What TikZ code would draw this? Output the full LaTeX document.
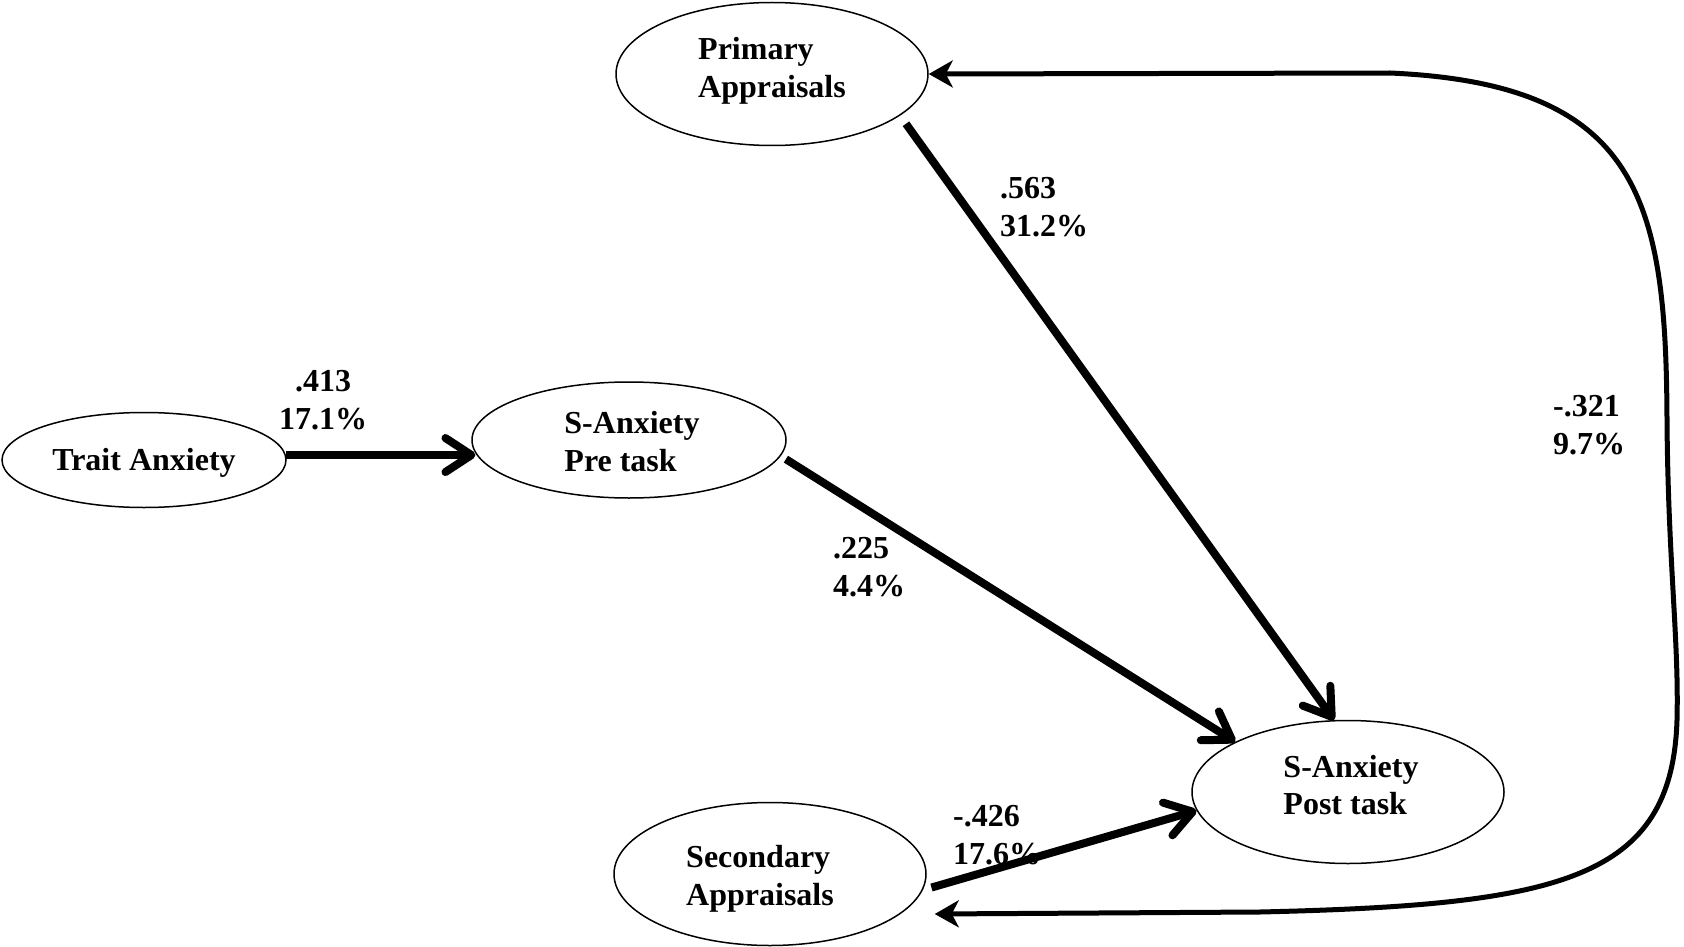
\documentclass[tikz,border=0pt]{standalone}
\usepackage{fontspec}
\setmainfont{Liberation Serif}
\usetikzlibrary{arrows.meta,shapes.geometric,calc}
\begin{document}
\begin{tikzpicture}[x=1pt,y=-1pt,
  txt/.style={font=\fontsize{32}{37.6}\selectfont\bfseries, inner sep=0pt, align=left},
  var/.style={ellipse, draw, line width=1.5pt, inner sep=0pt},
  big/.style={var, minimum width=312pt, minimum height=143pt},
  path/.style={line width=8pt, -{Straight Barb[length=26pt, width=34pt, round]}},
  fb/.style={line width=5pt, line cap=round,
     {Stealth[length=24pt, width=27pt, inset=7pt]}-{Stealth[length=24pt, width=27pt, inset=7pt]}}
]
\useasboundingbox (0,0) rectangle (1684,947);

\node[big, label={[txt, yshift=3pt]center:Primary\\Appraisals}] (Primary) at (772,74) {};
\node[var, minimum width=284pt, minimum height=95pt,
      label={[txt, yshift=-3pt]center:Trait Anxiety}] (Trait) at (144,460) {};
\node[var, minimum width=314pt, minimum height=116pt,
      label={[txt, xshift=3pt, yshift=-1.5pt]center:S-Anxiety\\Pre task}] (Pre) at (629,440) {};
\node[big, label={[txt, xshift=3pt, yshift=7pt]center:S-Anxiety\\Post task}] (Post) at (1348,792) {};
\node[big, label={[txt, xshift=-10pt, yshift=-5pt]center:Secondary\\Appraisals}] (Secondary) at (770,874) {};

\coordinate (sectip) at ($(Secondary.east)+(8,40)$);

\draw[path] (Trait.2) -- (Trait.2 -| Pre.185);
\draw[path, shorten <=10pt] (Primary.-18) -- (Post.101);
\draw[path, shorten <=6pt] (Pre.-6) -- (Post.156);
\draw[path, shorten <=9pt] (Secondary.-6) -- (Post.187);

\draw[fb] (Primary.east) -- (1390,73)
  .. controls (1640,84) and (1666,200) .. (1667,420)
  .. controls (1668,560) and (1679,640) .. (1677,720)
  .. controls (1672,880) and (1560,905) .. (1260,912)
  -- (sectip);

\node[txt, anchor=west] (l1) at (1000,207) {.563\\31.2\%};
\node[txt, align=center] (l2) at (323,400) {.413\\17.1\%};
\node[txt, anchor=west] (l3) at (833,567) {.225\\4.4\%};
\node[txt, anchor=west] (l4) at (953,835) {-.426\\17.6\%};
\node[txt, anchor=west] (l5) at (1553,425) {-.321\\9.7\%};
\end{tikzpicture}
\end{document}
